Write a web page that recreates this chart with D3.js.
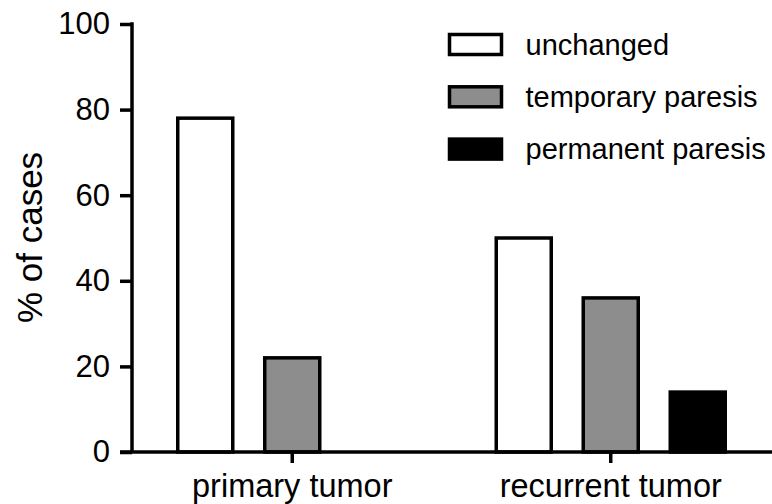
<!DOCTYPE html>
<html>
<head>
<meta charset="utf-8">
<script src="https://cdn.jsdelivr.net/npm/d3@7/dist/d3.min.js"></script>
<style>
  html, body { margin: 0; padding: 0; background: #fff; }
  svg { display: block; font-family: "Liberation Sans", Arial, Helvetica, sans-serif; }
</style>
</head>
<body>
<svg id="chart" width="772" height="504"></svg>
<script>
// Outcome groups and series
const categories = ["primary tumor", "recurrent tumor"];
const seriesNames = ["unchanged", "temporary paresis", "permanent paresis"];
const seriesFills = ["#ffffff", "#8d8d8d", "#000000"];

// Percent of cases per series, one value per category
const unchanged = [78, 50];
const temporaryParesis = [22, 36];
const permanentParesis = [0, 14];

const yTicks = [0, 20, 40, 60, 80, 100];

const seriesValues = [unchanged, temporaryParesis, permanentParesis];
const rows = categories.map((c, i) => ({
  category: c,
  bars: seriesNames.map((s, j) => ({ series: s, value: seriesValues[j][i], fill: seriesFills[j] }))
}));

const svg = d3.select("#chart");
const axisX = 132, baseY = 452;
const lineW = 3.5;

const y = d3.scaleLinear().domain([0, 100]).range([baseY, 24]);
const x0 = d3.scaleBand().domain(categories).range([133, 770]).padding(0);
const x1 = d3.scaleBand().domain(seriesNames).range([-114.5, 114.5]).paddingInner(32 / 87).paddingOuter(0);

// Bars
const groups = svg.selectAll("g.group")
  .data(rows)
  .join("g")
  .attr("class", "group")
  .attr("transform", d => `translate(${x0(d.category) + x0.bandwidth() / 2},0)`);

groups.selectAll("rect")
  .data(d => d.bars.filter(b => b.value > 0))
  .join("rect")
  .attr("x", b => x1(b.series))
  .attr("width", x1.bandwidth())
  .attr("y", b => y(b.value))
  .attr("height", b => y(0) - y(b.value))
  .attr("fill", b => b.fill)
  .attr("stroke", "#000")
  .attr("stroke-width", lineW);

// Y axis
const yAxis = d3.axisLeft(y).tickValues(yTicks).tickSize(12).tickPadding(10).tickSizeOuter(0);
const gy = svg.append("g").attr("transform", `translate(${axisX},0)`).call(yAxis);
gy.select(".domain").attr("stroke-width", lineW).attr("d", `M0,${y(100) - 1.75}V${baseY}`);
gy.selectAll(".tick line").attr("stroke-width", lineW);
gy.selectAll(".tick text").attr("font-size", 31).attr("fill", "#000").attr("font-family", "Liberation Sans, Arial, sans-serif");

// X axis
const xAxis = d3.axisBottom(x0).tickSize(11).tickPadding(11).tickSizeOuter(0);
const gx = svg.append("g").attr("transform", `translate(0,${baseY})`).call(xAxis);
gx.select(".domain").attr("stroke-width", lineW).attr("d", `M${axisX - 12},0H772`);
gx.selectAll(".tick line").attr("stroke-width", lineW);
gx.selectAll(".tick text").attr("font-size", 32.5).attr("fill", "#000").attr("font-family", "Liberation Sans, Arial, sans-serif");

// Y axis title
svg.append("text")
  .attr("transform", "translate(42,237.5) rotate(-90)")
  .attr("text-anchor", "middle")
  .attr("font-size", 35)
  .attr("fill", "#000")
  .text("% of cases");

// Legend
const legend = svg.append("g").attr("transform", "translate(449.5,34.5)");
const items = legend.selectAll("g")
  .data(seriesNames)
  .join("g")
  .attr("transform", (d, i) => `translate(0,${i * 52.3})`);
items.append("rect")
  .attr("width", 52).attr("height", 20)
  .attr("fill", (d, i) => seriesFills[i])
  .attr("stroke", "#000").attr("stroke-width", lineW);
items.append("text")
  .attr("x", 76).attr("y", 20)
  .attr("font-size", 29)
  .attr("fill", "#000")
  .text(d => d);
</script>
</body>
</html>
